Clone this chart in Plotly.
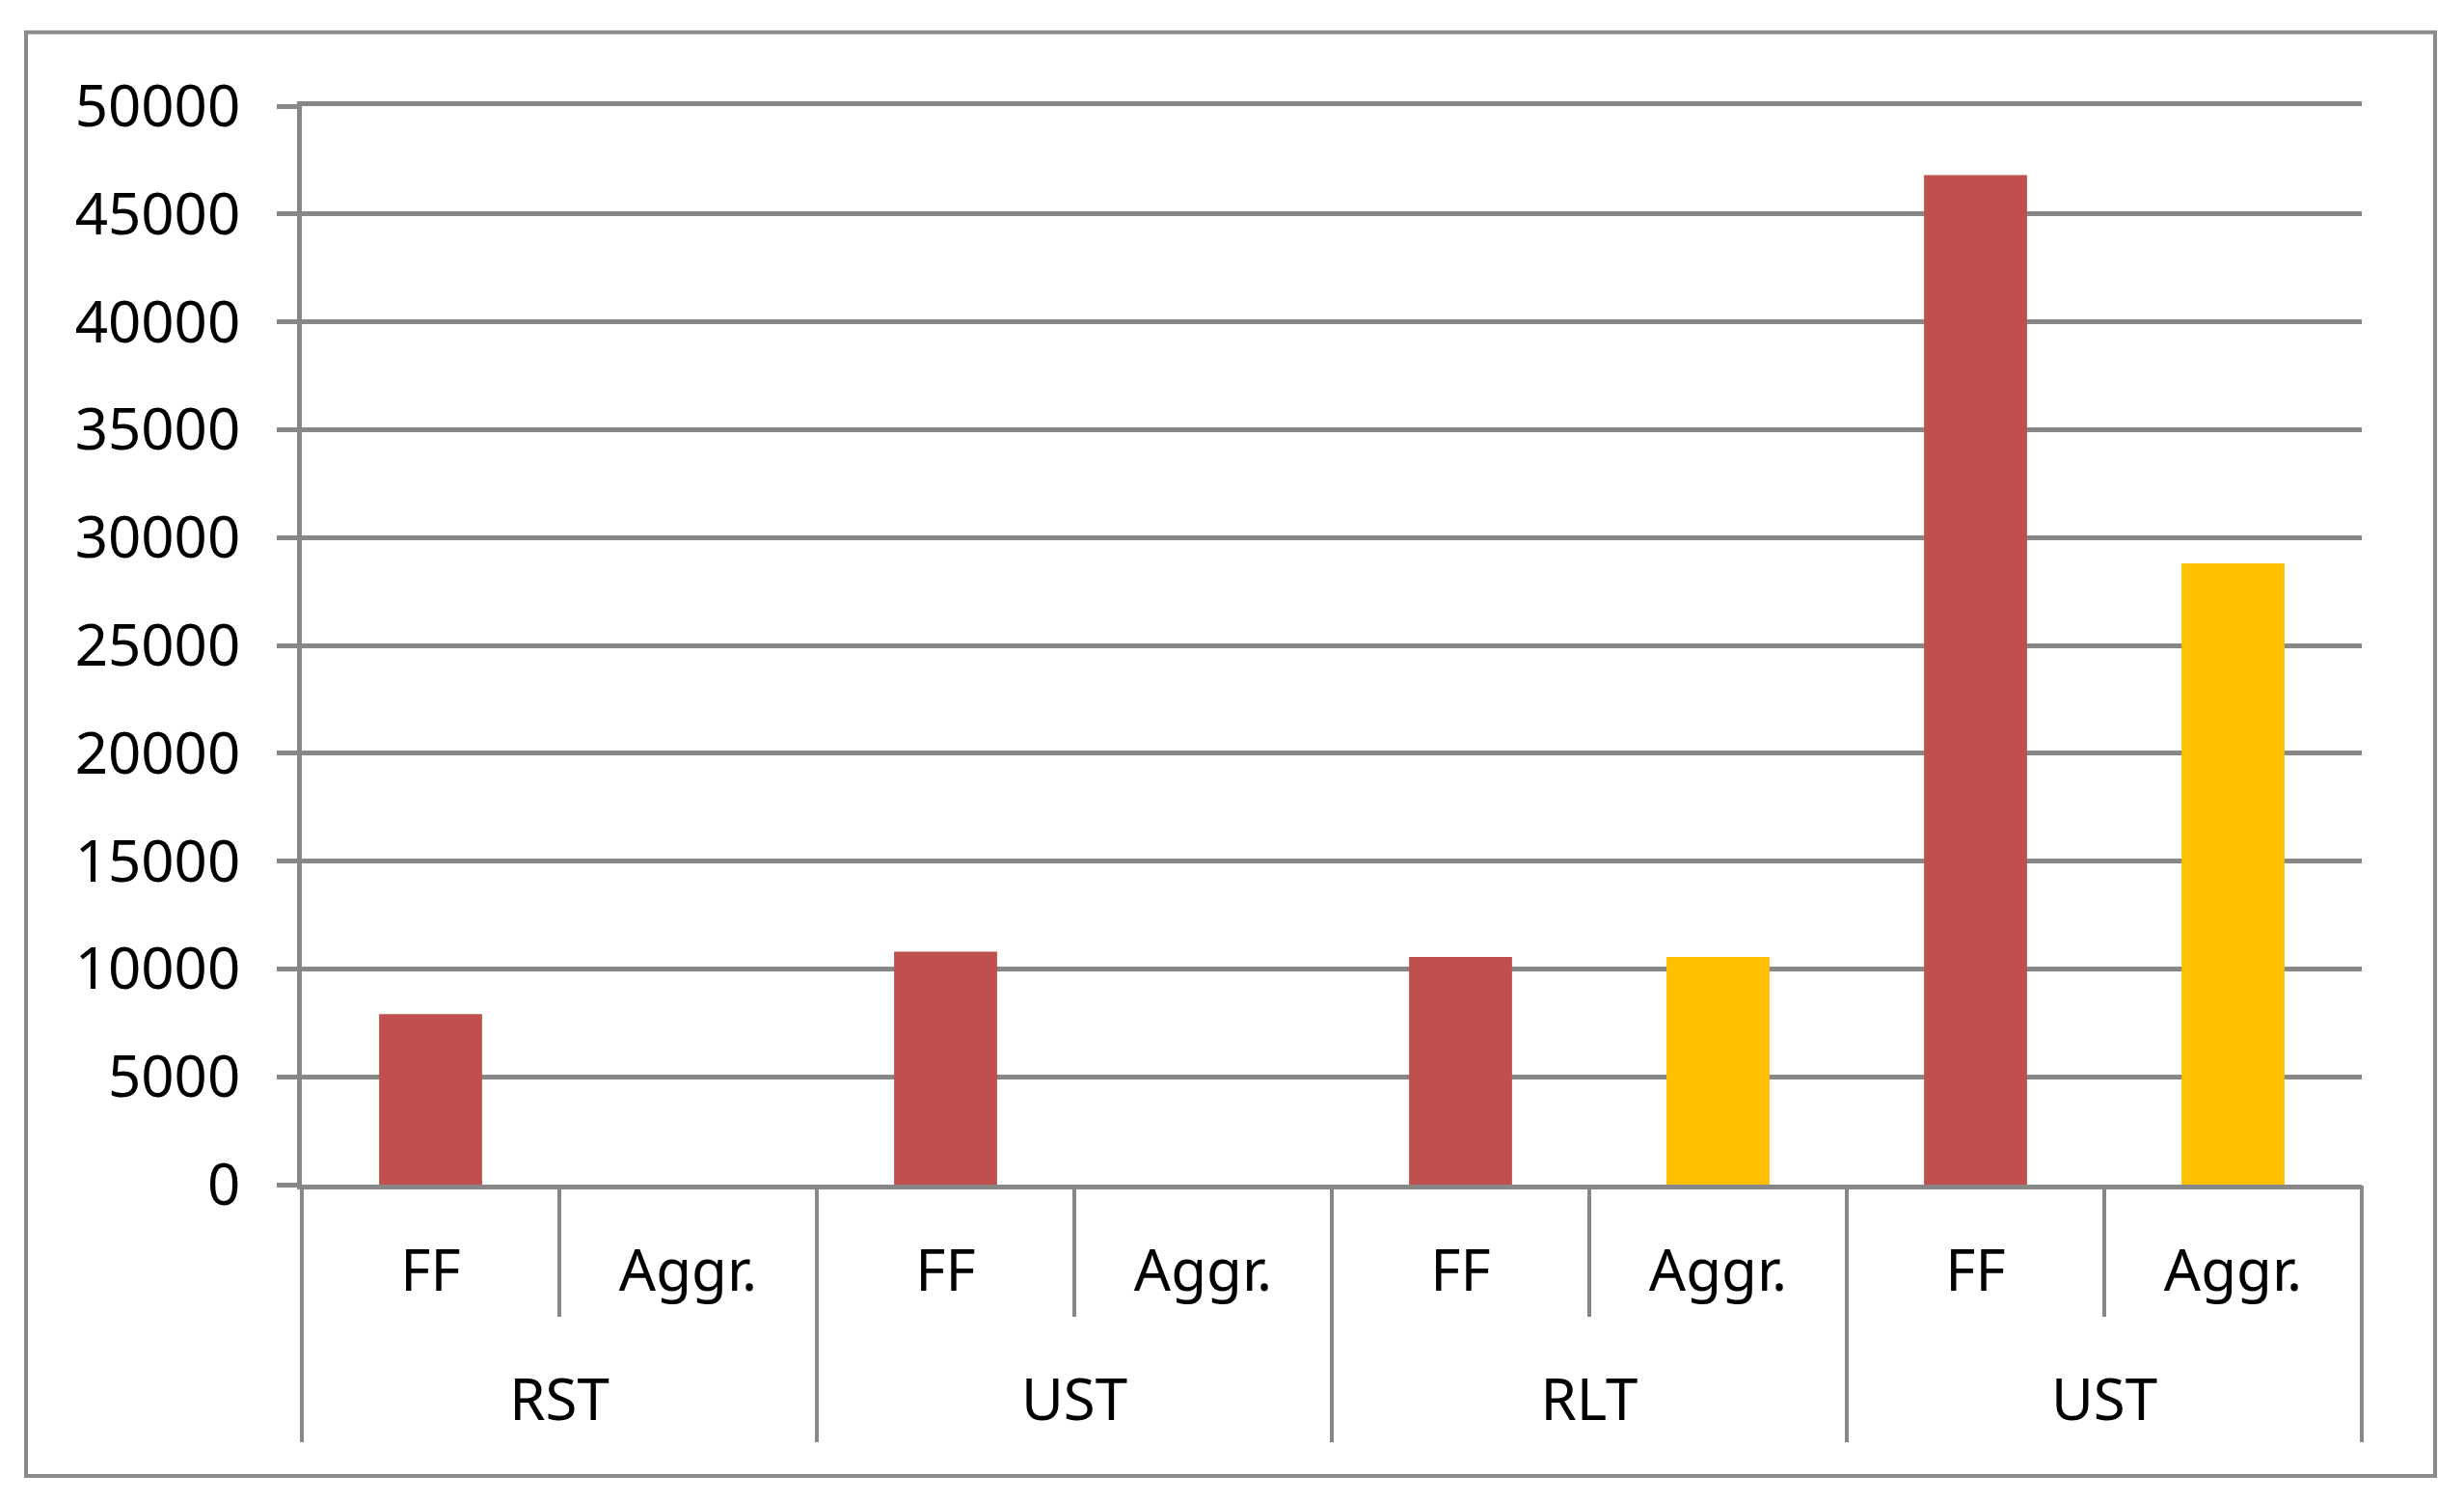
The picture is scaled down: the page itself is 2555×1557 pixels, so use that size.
import plotly.graph_objects as go

# ---- data ----
groups = ["RST", "UST", "RLT", "UST"]
series = ["FF", "Aggr."]
ff_values = [7900, 10800, 10550, 46800]
aggr_values = [None, None, 10550, 28800]
y_ticks = [0, 5000, 10000, 15000, 20000, 25000, 30000, 35000, 40000, 45000, 50000]
y_tick_labels = [str(v) for v in y_ticks]

ns = len(series)
ng = len(groups)
ff_x = [g * ns + 0 for g in range(ng)]
aggr_x = [g * ns + 1 for g in range(ng)]
inner_pos = list(range(ng * ns))
inner_text = series * ng
group_centers = [g * ns + (ns - 1) / 2 for g in range(ng)]
group_bounds = [g * ns - 0.5 for g in range(ng + 1)]
inner_bounds = [g * ns + s - 0.5 for g in range(ng) for s in range(1, ns)]

GRID = "#878787"
FONT = dict(family="Noto Sans", size=60, color="black")

fig = go.Figure()
fig.add_trace(go.Bar(x=ff_x, y=ff_values, name="FF", width=0.4,
                     marker=dict(color="#C0504D", line=dict(width=0))))
fig.add_trace(go.Bar(x=aggr_x, y=aggr_values, name="Aggr.", width=0.4,
                     marker=dict(color="#FFC000", line=dict(width=0))))

xr = [-0.5, ng * ns - 0.5]
fig.update_layout(
    width=2555, height=1557,
    margin=dict(l=313, r=106, t=110, b=329),
    paper_bgcolor="white", plot_bgcolor="white",
    barmode="overlay", showlegend=False,
    font=FONT,
    xaxis=dict(
        range=xr, tickmode="array", tickvals=inner_pos, ticktext=inner_text,
        ticks="", showgrid=False, zeroline=False,
        showline=True, mirror=True, linewidth=4.5, linecolor=GRID,
        tickfont=FONT, ticklabelstandoff=33,
        minor=dict(tickmode="array", tickvals=inner_bounds, ticks="outside",
                   ticklen=132, tickwidth=3.5, tickcolor=GRID, showgrid=False),
    ),
    xaxis2=dict(
        range=xr, overlaying="x", anchor="y", side="bottom",
        tickmode="array", tickvals=group_centers, ticktext=groups,
        ticks="", showgrid=False, zeroline=False, showline=False,
        tickfont=FONT, ticklabelstandoff=183,
        minor=dict(tickmode="array", tickvals=group_bounds, ticks="outside",
                   ticklen=266, tickwidth=3.5, tickcolor=GRID, showgrid=False),
    ),
    yaxis=dict(
        range=[0, 50000], tickmode="array", tickvals=y_ticks, ticktext=y_tick_labels,
        ticks="outside", ticklen=21, tickwidth=4.5, tickcolor=GRID,
        showline=True, linewidth=4.5, linecolor=GRID,
        showgrid=True, gridcolor=GRID, gridwidth=4.5, zeroline=False,
        tickfont=FONT, ticklabelstandoff=26,
    ),
    shapes=[dict(type="rect", xref="paper", yref="paper",
                 x0=-0.1339, x1=1.0356, y0=-0.2701, y1=1.0684,
                 line=dict(color="#8A8A8A", width=4), fillcolor="rgba(0,0,0,0)")],
)
# invisible trace to activate xaxis2
fig.add_trace(go.Scatter(x=[xr[0]], y=[0], xaxis="x2", mode="markers",
                         marker=dict(opacity=0), hoverinfo="skip", showlegend=False))

fig.write_html("out.html", config={"displayModeBar": False},
               post_script="document.body.style.margin='0';document.body.style.overflow='hidden';")
